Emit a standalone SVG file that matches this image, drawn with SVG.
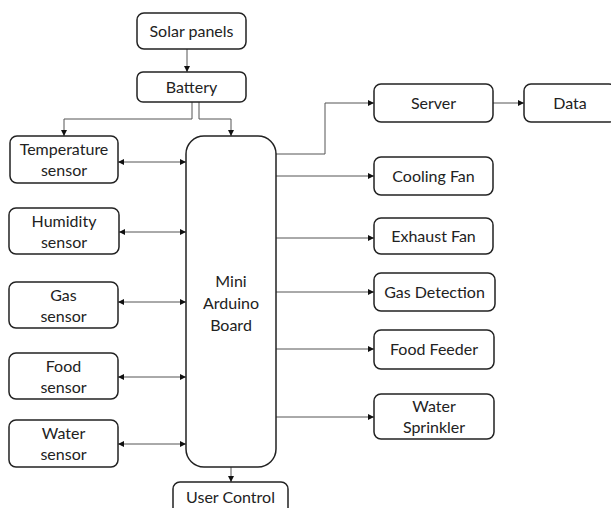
<svg xmlns="http://www.w3.org/2000/svg" width="611" height="508" viewBox="0 0 611 508">
<style>
.box{fill:#fff;stroke:#222;stroke-width:1.5}
.t{font-family:Lato,"Open Sans",sans-serif;font-size:16px;fill:#222;text-anchor:middle}
.c{fill:none;stroke:#555;stroke-width:1}
</style>
<defs>
<marker id="ah" viewBox="0 0 6 6" refX="6" refY="3" markerWidth="6" markerHeight="6" markerUnits="userSpaceOnUse" orient="auto-start-reverse">
<path d="M0,0 L6,3 L0,6 Z" fill="#111"/>
</marker>
</defs>
<rect width="611" height="508" fill="#fff"/>
<g id="connectors">
<path class="c" d="M187,49 V72" marker-end="url(#ah)"/>
<path class="c" d="M192,102 V119 H64 V136" marker-end="url(#ah)"/>
<path class="c" d="M199,102 V119 H231 V136" marker-end="url(#ah)"/>
<path class="c" d="M118,162 H186" marker-start="url(#ah)" marker-end="url(#ah)"/>
<path class="c" d="M119,232 H186" marker-start="url(#ah)" marker-end="url(#ah)"/>
<path class="c" d="M118,302 H186" marker-start="url(#ah)" marker-end="url(#ah)"/>
<path class="c" d="M118,377 H186" marker-start="url(#ah)" marker-end="url(#ah)"/>
<path class="c" d="M118,444 H186" marker-start="url(#ah)" marker-end="url(#ah)"/>
<path class="c" d="M276,154 H325 V103 H374" marker-end="url(#ah)"/>
<path class="c" d="M493,103 H524" marker-end="url(#ah)"/>
<path class="c" d="M276,176 H374" marker-end="url(#ah)"/>
<path class="c" d="M276,238 H374" marker-end="url(#ah)"/>
<path class="c" d="M276,292 H374" marker-end="url(#ah)"/>
<path class="c" d="M276,349 H374" marker-end="url(#ah)"/>
<path class="c" d="M276,417 H374" marker-end="url(#ah)"/>
<path class="c" d="M231,467 V482" marker-end="url(#ah)"/>
</g>
<g id="solar"><rect class="box" x="137" y="13" width="109" height="36" rx="7"/><text class="t" x="191.5" y="37">Solar panels</text></g>
<g id="battery"><rect class="box" x="137" y="72" width="109" height="30" rx="6"/><text class="t" x="191.5" y="93">Battery</text></g>
<g id="temperature"><rect class="box" x="10" y="136" width="108" height="47" rx="7"/><text class="t" x="64" y="155">Temperature</text><text class="t" x="64" y="176">sensor</text></g>
<g id="humidity"><rect class="box" x="9" y="208" width="110" height="46" rx="7"/><text class="t" x="64" y="226.5">Humidity</text><text class="t" x="64" y="247.5">sensor</text></g>
<g id="gas"><rect class="box" x="9" y="282" width="109" height="46" rx="7"/><text class="t" x="63.5" y="300.5">Gas</text><text class="t" x="63.5" y="321.5">sensor</text></g>
<g id="food"><rect class="box" x="9" y="353" width="109" height="46" rx="7"/><text class="t" x="63.5" y="371.5">Food</text><text class="t" x="63.5" y="392.5">sensor</text></g>
<g id="water"><rect class="box" x="9" y="420" width="109" height="47" rx="7"/><text class="t" x="63.5" y="439">Water</text><text class="t" x="63.5" y="460">sensor</text></g>
<g id="arduino"><rect class="box" x="186" y="136" width="90" height="331" rx="18"/><text class="t" x="231" y="286.5">Mini</text><text class="t" x="231" y="308.5">Arduino</text><text class="t" x="231" y="330.5">Board</text></g>
<g id="server"><rect class="box" x="374" y="84" width="119" height="38" rx="7"/><text class="t" x="433.5" y="109">Server</text></g>
<g id="data"><rect class="box" x="524" y="84" width="92" height="38" rx="7"/><text class="t" x="570" y="109">Data</text></g>
<g id="cooling"><rect class="box" x="374" y="157" width="119" height="38" rx="7"/><text class="t" x="433.5" y="182">Cooling Fan</text></g>
<g id="exhaust"><rect class="box" x="374" y="218" width="119" height="36" rx="7"/><text class="t" x="433.5" y="242">Exhaust Fan</text></g>
<g id="gasdetection"><rect class="box" x="374" y="273" width="121" height="38" rx="7"/><text class="t" x="434.5" y="298">Gas Detection</text></g>
<g id="feeder"><rect class="box" x="374" y="330" width="120" height="39" rx="7"/><text class="t" x="434" y="355">Food Feeder</text></g>
<g id="sprinkler"><rect class="box" x="374" y="394" width="120" height="45" rx="7"/><text class="t" x="434" y="411.5">Water</text><text class="t" x="434" y="432.5">Sprinkler</text></g>
<g id="usercontrol"><rect class="box" x="173" y="482" width="115" height="40" rx="7"/><text class="t" x="230.5" y="502.5">User Control</text></g>
</svg>
